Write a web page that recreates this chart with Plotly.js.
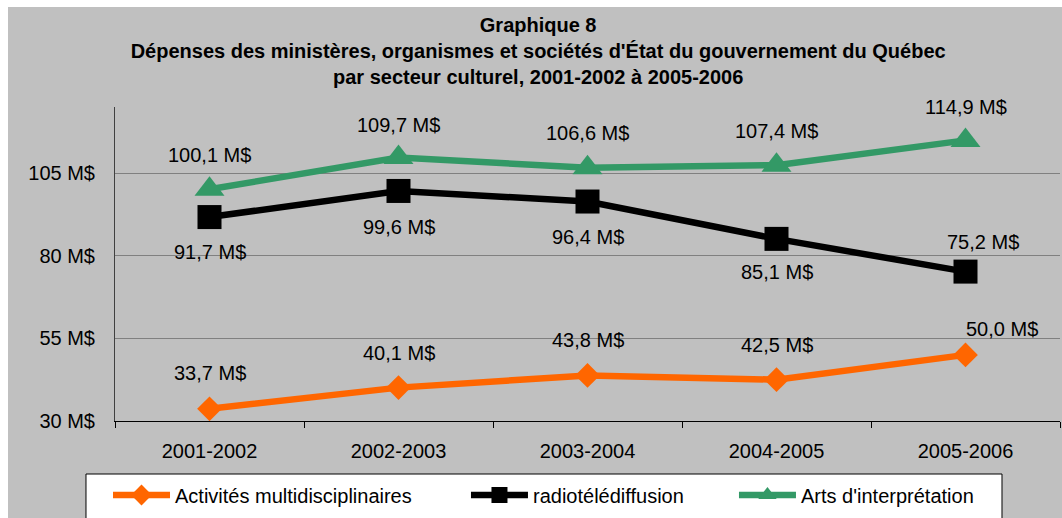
<!DOCTYPE html>
<html>
<head>
<meta charset="utf-8">
<script src="https://cdn.plot.ly/plotly-3.0.1.min.js"></script>
<style>
  html, body { margin: 0; padding: 0; background: #ffffff; width: 1062px; height: 518px; overflow: hidden; }
  #chart { position: absolute; left: 8px; top: 7px; width: 1054px; height: 511px; }
</style>
</head>
<body>
<div id="chart"></div>
<script>
// ---- data ----
const categories = ['2001-2002', '2002-2003', '2003-2004', '2004-2005', '2005-2006'];
const seriesNames = ['Activités multidisciplinaires', 'radiotélédiffusion', "Arts d'interprétation"];
const multidisciplinaires = [33.7, 40.1, 43.8, 42.5, 50.0];
const radiotelediffusion = [91.7, 99.6, 96.4, 85.1, 75.2];
const artsInterpretation = [100.1, 109.7, 106.6, 107.4, 114.9];
const yTicks = [30, 55, 80, 105];
const titleLines = [
  'Graphique 8',
  "Dépenses des ministères, organismes et sociétés d'État du gouvernement du Québec",
  'par secteur culturel, 2001-2002 à 2005-2006'
];

// ---- styles ----
const FONT = 'Liberation Sans, Arial, sans-serif';
const colors = ['#ff6600', '#000000', '#339966'];
const symbols = ['diamond', 'square', 'triangle-up'];
const sizes = [19, 24, 26];
const seriesValues = [multidisciplinaires, radiotelediffusion, artsInterpretation];
// label offsets (px) per series per point: [xshift, yshift]
const labelOffsets = [
  [[0, 36], [0, 35], [0, 35], [0, 35], [36, 26]],
  [[0, -35], [0, -36], [0, -35], [0, -33], [17, 30]],
  [[0, 34], [0, 33], [0, 35], [0, 34], [0, 33]]
];
const legendX = [-0.0074, 0.3714, 0.6550];

const fmt = v => v.toFixed(1).replace('.', ',') + ' M$';

const traces = seriesValues.map((vals, i) => ({
  type: 'scatter',
  mode: 'lines+markers',
  name: seriesNames[i],
  x: categories,
  y: vals,
  line: { color: colors[i], width: 6.5 },
  marker: { symbol: symbols[i], size: sizes[i], color: colors[i] },
  legend: i === 0 ? 'legend' : 'legend' + (i + 1),
  hoverinfo: 'skip'
}));

const annotations = [];
seriesValues.forEach((vals, i) => {
  vals.forEach((v, j) => {
    annotations.push({
      x: categories[j], y: v, xref: 'x', yref: 'y',
      text: fmt(v), showarrow: false,
      xshift: labelOffsets[i][j][0], yshift: labelOffsets[i][j][1],
      font: { family: FONT, size: 20, color: '#000' }
    });
  });
});

function legendCfg(x) {
  return {
    orientation: 'h', x: x, xanchor: 'left', y: -0.2357, yanchor: 'middle',
    bgcolor: 'rgba(0,0,0,0)', borderwidth: 0, itemwidth: 57,
    font: { family: FONT, size: 20, color: '#000' },
    itemclick: false, itemdoubleclick: false
  };
}

const layout = {
  width: 1054, height: 511,
  margin: { l: 107, r: 2, t: 100, b: 97, autoexpand: false },
  paper_bgcolor: '#c0c0c0',
  plot_bgcolor: '#c0c0c0',
  font: { family: FONT, size: 20, color: '#000' },
  title: {
    text: titleLines.join('<br>'),
    font: { family: FONT, size: 20, color: '#000', weight: 'bold' },
    xref: 'container', x: 0.503, xanchor: 'center',
    yref: 'container', y: 0.951, yanchor: 'top'
  },
  xaxis: {
    type: 'category', range: [-0.5, 4.5],
    showline: true, linecolor: '#000', linewidth: 1,
    ticks: 'outside', tickson: 'boundaries', ticklen: 6, tickcolor: '#000', tickwidth: 1,
    showgrid: false, ticklabelstandoff: 12,
    tickfont: { family: FONT, size: 20, color: '#000' },
    fixedrange: true
  },
  yaxis: {
    range: [30, 125], tickvals: yTicks, ticktext: yTicks.map(v => v + ' M$'),
    showline: true, linecolor: '#404040', linewidth: 1,
    showgrid: true, gridcolor: '#808080', gridwidth: 1, zeroline: false,
    ticks: '', ticklabelstandoff: 15,
    tickfont: { family: FONT, size: 20, color: '#000' },
    fixedrange: true
  },
  legend: legendCfg(legendX[0]),
  legend2: legendCfg(legendX[1]),
  legend3: legendCfg(legendX[2]),
  shapes: [{
    type: 'rect', xref: 'paper', yref: 'paper',
    x0: -0.03069, x1: 0.93862, y0: -0.3471, y1: -0.16879,
    fillcolor: '#ffffff', line: { color: '#000', width: 1 }, layer: 'above'
  }],
  annotations: annotations,
  showlegend: true
};

Plotly.newPlot('chart', traces, layout, { displayModeBar: false, staticPlot: true });
</script>
</body>
</html>
